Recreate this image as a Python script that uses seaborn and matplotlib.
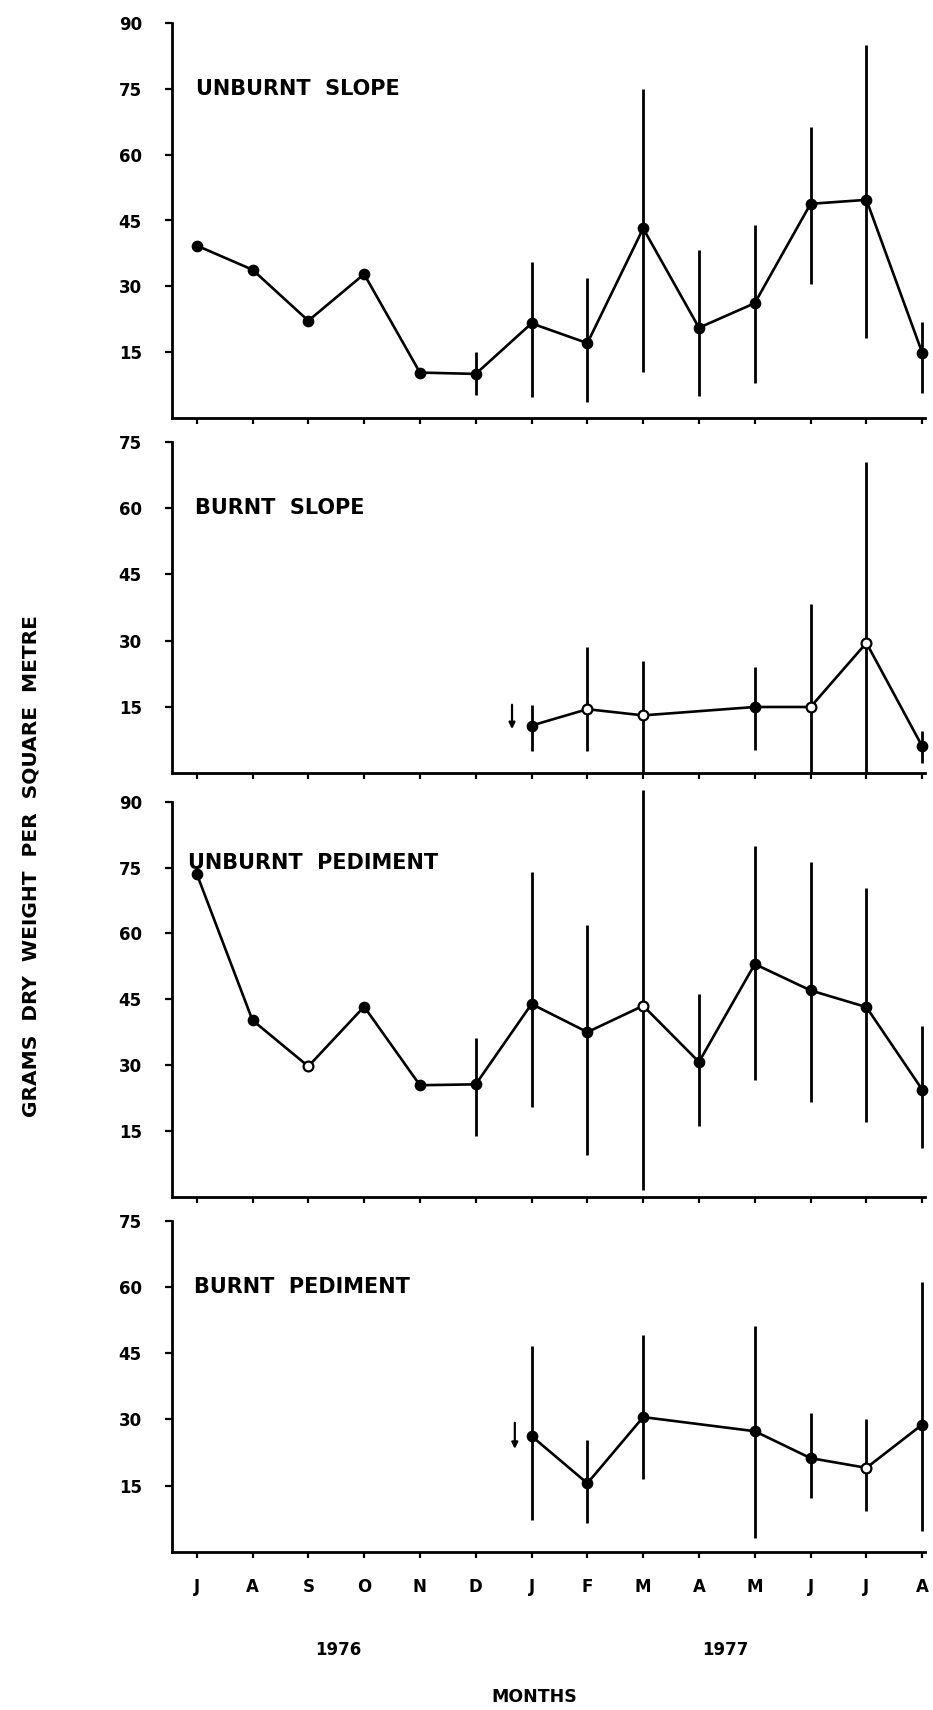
import numpy as np
import pandas as pd
import matplotlib
matplotlib.use("Agg")
import matplotlib.pyplot as plt
import seaborn as sns
from matplotlib.transforms import blended_transform_factory

nan = np.nan

# ---------------- data ----------------
months = ["J", "A", "S", "O", "N", "D", "J", "F", "M", "A", "M", "J", "J", "A"]
year_labels = ["1976", "1977"]
year_pos = [2.53, 9.47]

panel_titles = ["UNBURNT  SLOPE", "BURNT  SLOPE", "UNBURNT  PEDIMENT", "BURNT  PEDIMENT"]
panel_ymax = [90, 75, 90, 75]

unburnt_slope_mean = [39.3, 33.8, 22.2, 32.8, 10.4, 10.1, 21.6, 17.1, 43.2, 20.6, 26.2, 48.8, 49.7, 14.9]
unburnt_slope_low = [nan, nan, nan, nan, nan, 5.3, 4.8, 3.8, 10.6, 5.1, 8.0, 30.5, 18.2, 5.7]
unburnt_slope_high = [nan, nan, nan, nan, nan, 15.1, 35.6, 31.9, 74.9, 38.4, 44.0, 66.2, 84.9, 22.0]
unburnt_slope_open = [0, 0, 0, 0, 0, 0, 0, 0, 0, 0, 0, 0, 0, 0]

burnt_slope_mean = [nan, nan, nan, nan, nan, nan, 10.8, 14.5, 13.1, nan, 15.0, 15.0, 29.5, 6.1]
burnt_slope_low = [nan, nan, nan, nan, nan, nan, 5.0, 5.1, 0.0, nan, 5.3, 0.0, 0.0, 2.3]
burnt_slope_high = [nan, nan, nan, nan, nan, nan, 15.5, 28.6, 25.4, nan, 24.1, 38.3, 70.4, 9.5]
burnt_slope_open = [0, 0, 0, 0, 0, 0, 0, 1, 1, 0, 0, 1, 1, 0]

unburnt_ped_mean = [73.6, 40.2, 29.7, 43.3, 25.4, 25.6, 43.9, 37.5, 43.5, 30.7, 53.0, 47.0, 43.2, 24.4]
unburnt_ped_low = [nan, nan, nan, nan, nan, 13.9, 20.4, 9.5, 1.6, 16.1, 26.5, 21.6, 17.0, 11.2]
unburnt_ped_high = [nan, nan, nan, nan, nan, 36.2, 73.9, 61.9, 92.7, 46.1, 80.0, 76.2, 70.4, 39.0]
unburnt_ped_open = [0, 0, 1, 0, 0, 0, 0, 0, 1, 0, 0, 0, 0, 0]

burnt_ped_mean = [nan, nan, nan, nan, nan, nan, 26.2, 15.5, 30.5, nan, 27.3, 21.2, 19.0, 28.8]
burnt_ped_low = [nan, nan, nan, nan, nan, nan, 7.2, 6.4, 16.5, nan, 3.1, 12.1, 9.3, 4.8]
burnt_ped_high = [nan, nan, nan, nan, nan, nan, 46.7, 25.3, 49.0, nan, 51.1, 31.4, 30.1, 61.1]
burnt_ped_open = [0, 0, 0, 0, 0, 0, 0, 0, 0, 0, 0, 0, 1, 0]

# burning date arrows (x position, start value, end value); None = no arrow
arrows = [None, (5.65, 15.5, 10.0), None, (5.7, 29.2, 23.3)]

panels = [
    (unburnt_slope_mean, unburnt_slope_low, unburnt_slope_high, unburnt_slope_open),
    (burnt_slope_mean, burnt_slope_low, burnt_slope_high, burnt_slope_open),
    (unburnt_ped_mean, unburnt_ped_low, unburnt_ped_high, unburnt_ped_open),
    (burnt_ped_mean, burnt_ped_low, burnt_ped_high, burnt_ped_open),
]

# ---------------- style ----------------
sns.set_style("ticks")
plt.rcParams["font.family"] = ["DejaVu Sans"]
plt.rcParams["text.color"] = "black"
plt.rcParams["axes.labelcolor"] = "black"
plt.rcParams["xtick.color"] = "black"
plt.rcParams["ytick.color"] = "black"

W, H = 933, 1710
fig = plt.figure(figsize=(W / 100, H / 100), dpi=100)

# axes boxes in pixel coordinates: (top_px, bottom_px)
boxes = [(22.7, 418.3), (441.7, 773.3), (801.7, 1196.7), (1220.7, 1551.7)]
left_px, right_px = 171.7, 925.0
title_y = [75, 60, 76, 60]
title_x = [-0.01, -0.03, -0.15, -0.05]

for i, ((mean, low, high, op), (top, bot)) in enumerate(zip(panels, boxes)):
    ax = fig.add_axes([left_px / W, 1 - bot / H, (right_px - left_px) / W, (bot - top) / H])
    df = pd.DataFrame({
        "pos": np.arange(len(months)),
        "mean": mean, "low": low, "high": high, "open": op,
    })
    d = df.dropna(subset=["mean"])
    # error bars
    e = df.dropna(subset=["low", "high"])
    ax.vlines(e["pos"], e["low"], e["high"], color="black", lw=2.0, zorder=2, clip_on=False)
    # connecting line
    sns.lineplot(data=d, x="pos", y="mean", color="black", lw=1.9, ax=ax,
                 estimator=None, sort=True, zorder=3)
    filled = d[d["open"] == 0]
    hollow = d[d["open"] == 1]
    sns.scatterplot(data=filled, x="pos", y="mean", color="black", s=55,
                    edgecolor="black", linewidth=1.0, ax=ax, zorder=4, clip_on=False)
    if len(hollow):
        sns.scatterplot(data=hollow, x="pos", y="mean", facecolor="white", s=50,
                        edgecolor="black", linewidth=1.6, ax=ax, zorder=4, clip_on=False)

    ax.set_xlim(-0.448, 13.05)
    ax.set_ylim(0, panel_ymax[i])
    ax.set_yticks(np.arange(15, panel_ymax[i] + 1, 15))
    ax.set_xticks(np.arange(len(months)))
    ax.set_xlabel("")
    ax.set_ylabel("")
    for s in ["top", "right"]:
        ax.spines[s].set_visible(False)
    for s in ["left", "bottom"]:
        ax.spines[s].set_linewidth(2.0)
        ax.spines[s].set_color("black")
    ax.tick_params(axis="y", direction="out", length=5, width=1.6, pad=16.5,
                   labelsize=12, colors="black")
    ax.tick_params(axis="x", direction="out", length=4, width=1.6, pad=15,
                   labelsize=12, colors="black")
    for lab in ax.get_yticklabels():
        lab.set_fontweight("bold")
    if i == 3:
        ax.set_xticklabels(months, fontweight="bold")
        tr = blended_transform_factory(ax.transData, ax.transAxes)
        for yl, yp in zip(year_labels, year_pos):
            ax.text(yp, -0.297, yl, transform=tr, ha="center", va="center",
                    fontsize=12, fontweight="bold", color="black")
    else:
        ax.set_xticklabels([])
    ax.text(title_x[i], title_y[i], panel_titles[i], ha="left", va="center",
            fontsize=15, fontweight="bold", color="black")
    if arrows[i] is not None:
        ax_x, y0, y1 = arrows[i]
        ax.annotate("", xy=(ax_x, y1), xytext=(ax_x, y0),
                    arrowprops=dict(arrowstyle="-|>", color="black", lw=1.6,
                                    mutation_scale=9, shrinkA=0, shrinkB=0))
    ax.patch.set_alpha(0)

fig.text(31 / W, 1 - 866 / H, "GRAMS  DRY  WEIGHT  PER  SQUARE  METRE", rotation=90,
         ha="center", va="center", fontsize=14.5, fontweight="bold", color="black",
         family="DejaVu Sans")
fig.text(534 / W, 1 - 1697 / H, "MONTHS", ha="center", va="center", fontsize=12.5,
         fontweight="bold", color="black", family="DejaVu Sans")

fig.savefig("out.png", dpi=100, facecolor="white")
